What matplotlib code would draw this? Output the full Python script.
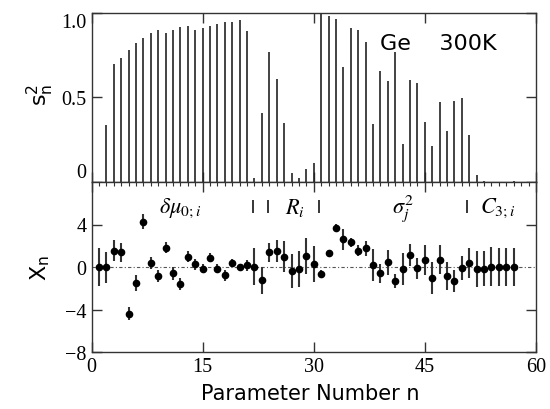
import numpy as np
import matplotlib.pyplot as plt
from matplotlib.ticker import MultipleLocator

# parameter numbers
n = np.arange(1, 58)

# top panel: s_n^2
s2 = [0.0, 0.337, 0.696, 0.733, 0.778, 0.822, 0.851, 0.880, 0.896, 0.880,
      0.896, 0.912, 0.920, 0.898, 0.906, 0.922, 0.931, 0.943, 0.945, 0.953,
      0.892, 0.020, 0.404, 0.765, 0.610, 0.349, 0.050, 0.025, 0.078, 0.110,
      1.000, 0.980, 0.963, 0.678, 0.908, 0.898, 0.825, 0.339, 0.657, 0.594,
      0.765, 0.222, 0.600, 0.586, 0.351, 0.212, 0.473, 0.302, 0.475, 0.496,
      0.275, 0.040, 0.008, 0.0, 0.0, 0.0, 0.004]

# bottom panel: X_n with errors
xn = [0.0, 0.0, 1.56, 1.40, -4.35, -1.52, 4.25, 0.38, -0.86, 1.84,
      -0.57, -1.59, 0.98, 0.25, -0.13, 0.89, -0.13, -0.76, 0.41, 0.03,
      0.16, 0.03, -1.24, 1.40, 1.52, 0.98, -0.35, -0.16, 1.05, 0.27,
      -0.60, 1.33, 3.71, 2.60, 2.32, 1.56, 1.78, 0.19, -0.57, 0.44,
      -1.30, -0.19, 1.14, -0.10, 0.70, -1.05, 0.70, -0.83, -1.30, -0.10,
      0.38, -0.19, -0.13, 0.06, 0.0, 0.0, 0.0]
xerr = [1.80, 1.46, 1.00, 0.90, 0.60, 0.75, 0.70, 0.55, 0.55, 0.50,
        0.60, 0.55, 0.50, 0.55, 0.45, 0.45, 0.45, 0.50, 0.35, 0.30,
        0.50, 1.75, 1.30, 0.90, 1.05, 1.45, 1.60, 1.70, 1.65, 1.70,
        0.30, 0.30, 0.35, 1.00, 0.40, 0.55, 0.70, 1.50, 0.90, 1.20,
        0.70, 1.50, 1.05, 1.00, 1.40, 1.50, 1.35, 1.30, 1.00, 1.15,
        1.40, 1.70, 1.65, 1.80, 1.75, 1.75, 1.75]

# group labels and separators
groups = [r'$\delta\mu_{0;i}$', r'$R_i$', r'$\sigma^2_j$', r'$C_{3;i}$']
group_x = [12, 27.5, 42, 54.8]
separators = [21.8, 23.8, 30.7, 50.7]

edge = '#333333'
tick_font = {'family': 'Liberation Serif', 'size': 14.5}

fig = plt.figure(figsize=(5.5, 4.1), dpi=100)
ax1 = fig.add_axes([0.1664, 0.554, 0.808, 0.413])
ax2 = fig.add_axes([0.1664, 0.138, 0.808, 0.416])

# top: sticks
ax1.vlines(n, 0, s2, color='#222222', lw=1.2)
ax1.set_xlim(0, 60)
ax1.set_ylim(0, 1.0)
ax1.set_xticks([0, 15, 30, 45, 60])
ax1.set_xticklabels([])
ax1.set_yticks([0, 0.5, 1.0])
ax1.set_yticklabels(['0', '0.5', '1.0'], fontdict=tick_font)
ax1.tick_params(direction='in', top=True, right=True, length=7,
                color=edge, width=1)
ticks = ax1.yaxis.get_major_ticks()
ticks[0].label1.set_va('bottom')
ticks[2].label1.set_va('top')
ax1.text(38.9, 0.82, 'Ge    300K', fontsize=16, family='DejaVu Sans',
         va='center', ha='left')

# bottom: points with error bars
ax2.axhline(0, color='#555555', lw=0.8, ls=(0, (3, 2, 1, 2)))
ax2.errorbar(n, xn, yerr=xerr, fmt='o', color='black', ms=4.5,
             ecolor='#333333', elinewidth=1.5, capsize=0)
ax2.set_xlim(0, 60)
ax2.set_ylim(-8, 8)
ax2.set_xticks([0, 15, 30, 45, 60])
ax2.set_xticklabels(['0', '15', '30', '45', '60'], fontdict=tick_font)
ax2.xaxis.set_minor_locator(MultipleLocator(1))
ax2.set_yticks([-8, -4, 0, 4])
ax2.set_yticklabels(['\u22128', '\u22124', '0', '4'], fontdict=tick_font)
ax2.tick_params(which='major', direction='in', top=True, right=True,
                length=7, color=edge, width=1)
ax2.tick_params(axis='x', which='minor', direction='in', top=True,
                bottom=False, length=3, color=edge, width=0.8)
for t in ax2.yaxis.get_major_ticks()[2:3]:
    t.tick1line.set_visible(False)
    t.tick2line.set_visible(False)

for xs in separators:
    ax2.vlines(xs, 5.1, 6.3, color='black', lw=1.1)
for lab, xg in zip(groups, group_x):
    ax2.text(xg, 5.6, lab, fontsize=16, ha='center', va='center',
             math_fontfamily='stix')

for a in (ax1, ax2):
    for sp in a.spines.values():
        sp.set_color(edge)
        sp.set_linewidth(1.0)

fig.text(40 / 550, 1 - 95 / 410, r'$\mathrm{s}^2_\mathrm{n}$', rotation=90,
         ha='center', va='center', fontsize=16, math_fontfamily='dejavusans')
fig.text(40 / 550, 1 - 268 / 410, r'$\mathrm{X}_\mathrm{n}$', rotation=90,
         ha='center', va='center', fontsize=16, math_fontfamily='dejavusans')
fig.text(310 / 550, 1 - 394 / 410, 'Parameter Number n', ha='center',
         va='center', fontsize=15, family='DejaVu Sans')

fig.savefig('out.png', dpi=100)
